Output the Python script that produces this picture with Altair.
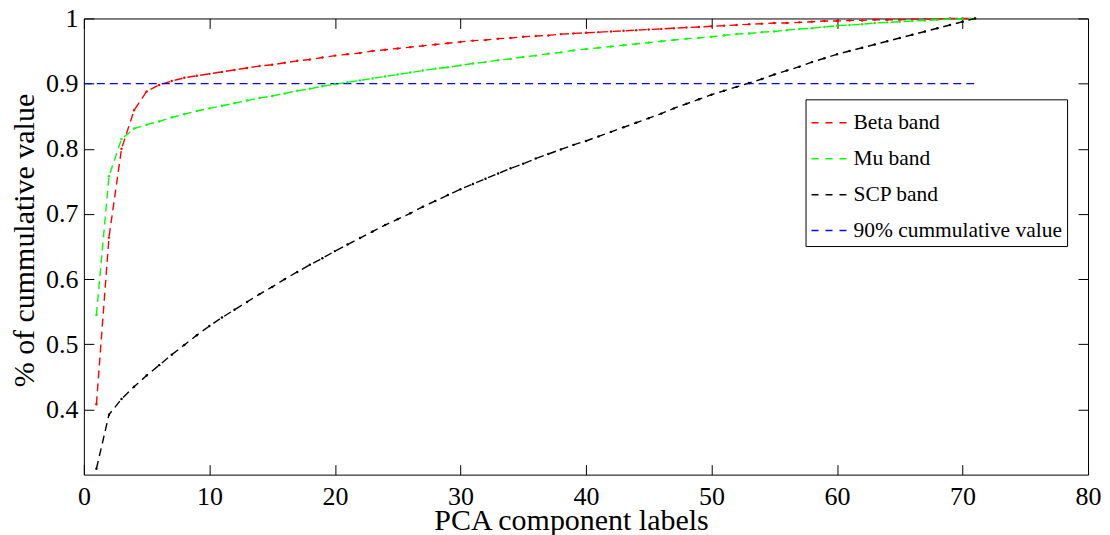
import altair as alt
import pandas as pd

FONT = "Liberation Serif"

components = list(range(1, 72))

beta = [0.408, 0.664, 0.800, 0.859, 0.888, 0.898, 0.904, 0.909, 0.912, 0.915,
        0.918, 0.921, 0.924, 0.927, 0.929, 0.932, 0.935, 0.937, 0.940, 0.943,
        0.945, 0.947, 0.950, 0.952, 0.954, 0.956, 0.958, 0.960, 0.962, 0.964,
        0.966, 0.967, 0.969, 0.970, 0.972, 0.973, 0.974, 0.976, 0.977, 0.978,
        0.979, 0.980, 0.981, 0.982, 0.983, 0.984, 0.985, 0.986, 0.987, 0.988,
        0.989, 0.990, 0.991, 0.992, 0.993, 0.993, 0.994, 0.995, 0.996, 0.996,
        0.997, 0.997, 0.998, 0.998, 0.998, 0.999, 0.999, 0.999, 1.000, 1.000,
        1.000]

mu = [0.545, 0.758, 0.815, 0.831, 0.837, 0.842, 0.848, 0.853, 0.858, 0.862,
      0.866, 0.870, 0.874, 0.878, 0.881, 0.885, 0.889, 0.892, 0.896, 0.899,
      0.902, 0.905, 0.908, 0.911, 0.914, 0.917, 0.920, 0.923, 0.925, 0.928,
      0.931, 0.933, 0.936, 0.938, 0.941, 0.943, 0.946, 0.948, 0.951, 0.953,
      0.955, 0.957, 0.959, 0.961, 0.963, 0.965, 0.967, 0.969, 0.970, 0.972,
      0.974, 0.976, 0.977, 0.979, 0.980, 0.982, 0.984, 0.985, 0.987, 0.989,
      0.990, 0.991, 0.993, 0.994, 0.995, 0.996, 0.997, 0.998, 0.999, 0.9995,
      1.000]

scp = [0.309, 0.392, 0.416, 0.435, 0.452, 0.468, 0.484, 0.499, 0.514, 0.528,
       0.541, 0.553, 0.565, 0.577, 0.588, 0.600, 0.611, 0.622, 0.632, 0.643,
       0.653, 0.663, 0.673, 0.683, 0.692, 0.701, 0.711, 0.720, 0.729, 0.738,
       0.746, 0.754, 0.762, 0.770, 0.777, 0.785, 0.792, 0.799, 0.806, 0.812,
       0.819, 0.826, 0.833, 0.840, 0.847, 0.854, 0.862, 0.869, 0.876, 0.883,
       0.889, 0.895, 0.901, 0.907, 0.914, 0.920, 0.926, 0.933, 0.939, 0.945,
       0.950, 0.955, 0.960, 0.965, 0.970, 0.975, 0.980, 0.985, 0.990, 0.995,
       1.000]

threshold_x = [0, 71]
threshold_y = [0.9, 0.9]

series_names = ["Beta band", "Mu band", "SCP band", "90% cummulative value"]
series_colors = ["#FF0000", "#00FF00", "#000000", "#0000FF"]

x_ticks = [0, 10, 20, 30, 40, 50, 60, 70, 80]
y_ticks = [0.4, 0.5, 0.6, 0.7, 0.8, 0.9, 1.0]

rows = []
for name, vals in zip(series_names[:3], [beta, mu, scp]):
    for cx, v in zip(components, vals):
        rows.append({"x": cx, "y": v, "series": name})
for cx, v in zip(threshold_x, threshold_y):
    rows.append({"x": cx, "y": v, "series": series_names[3]})
df = pd.DataFrame(rows)
bands = df[df["series"] != series_names[3]]

xs = alt.Scale(domain=[0, 80], nice=False, zero=False)
ys = alt.Scale(domain=[0.3, 1.0], nice=False, zero=False)

x_axis = alt.Axis(values=x_ticks, orient="bottom", offset=-10, tickSize=10, domain=False,
                  grid=False, labelFont=FONT, labelFontSize=26, labelColor="black",
                  labelPadding=9, labelFlush=False, labelOverlap=False,
                  tickColor="black", tickWidth=1,
                  title="PCA component labels", titleFont=FONT, titleFontSize=30,
                  titleFontWeight="normal", titleColor="black",
                  titleX=488, titleY=65, titleBaseline="alphabetic", titleAlign="center")
y_axis = alt.Axis(values=y_ticks, orient="left", offset=-10, tickSize=10, domain=False,
                  grid=False, labelFont=FONT, labelFontSize=26, labelColor="black",
                  labelPadding=6, labelFlush=False, labelOverlap=False,
                  tickColor="black", tickWidth=1,
                  labelExpr="datum.value == 1 ? '1' : format(datum.value, '.1f')",
                  title="% of cummulative value", titleFont=FONT, titleFontSize=30,
                  titleFontWeight="normal", titleColor="black",
                  titleX=-69, titleY=222, titleBaseline="middle", titleAlign="center",
                  titleAngle=270)
x_axis_top = alt.Axis(values=x_ticks, orient="top", offset=-10, tickSize=10, domain=False,
                      grid=False, labels=False, tickColor="black", tickWidth=1)
y_axis_right = alt.Axis(values=y_ticks, orient="right", offset=-10, tickSize=10, domain=False,
                        grid=False, labels=False, tickColor="black", tickWidth=1)

legend = alt.Legend(title=None, orient="none", legendX=723, legendY=81,
                    symbolType="stroke", symbolSize=1225, symbolStrokeWidth=1.5,
                    symbolDash=[7, 7], labelFont=FONT, labelFontSize=21.5,
                    labelColor="black", labelOffset=6, rowPadding=7, padding=5,
                    strokeColor="black", fillColor="white", labelLimit=400)
color = alt.Color("series:N", scale=alt.Scale(domain=series_names, range=series_colors),
                  legend=legend)

lines = alt.Chart(df).mark_line(strokeWidth=1.4, strokeDash=[8, 5]).encode(
    x=alt.X("x:Q", scale=xs, axis=x_axis),
    y=alt.Y("y:Q", scale=ys, axis=y_axis),
    color=color,
)
dots = alt.Chart(bands).mark_circle(size=6, opacity=1).encode(
    x=alt.X("x:Q", scale=xs, axis=x_axis),
    y=alt.Y("y:Q", scale=ys, axis=y_axis),
    color=color,
)
frame_axes = alt.Chart(df).mark_point(opacity=0).encode(
    x=alt.X("x:Q", scale=xs, axis=x_axis_top, title=None),
    y=alt.Y("y:Q", scale=ys, axis=y_axis_right, title=None),
)

chart = alt.layer(alt.layer(lines, dots), frame_axes).resolve_axis(
    x="independent", y="independent"
).properties(
    width=1006, height=457,
    autosize=alt.AutoSizeParams(type="none"),
    padding={"left": 76, "top": 10, "right": 14, "bottom": 60},
    background="white",
).configure_view(stroke="black", strokeWidth=1)

chart.save("out.html", embed_options={"renderer": "svg", "actions": False})
